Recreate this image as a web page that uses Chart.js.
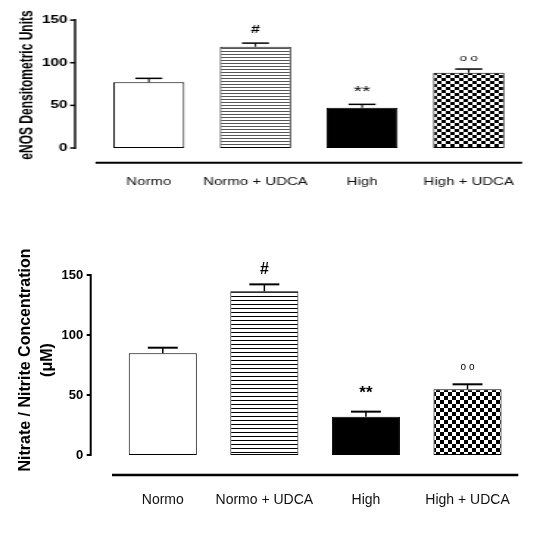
<!DOCTYPE html>
<html><head><meta charset="utf-8">
<script src="https://cdn.jsdelivr.net/npm/chart.js@4.4.0/dist/chart.umd.min.js"></script>
<style>
html,body{margin:0;padding:0;background:#fff;width:540px;height:545px;overflow:hidden;}
#top{position:absolute;left:0;top:0;width:367px;height:200px;transform:scaleX(1.4714);transform-origin:0 0;}
#bottom{position:absolute;left:0;top:240px;width:540px;height:305px;}
</style></head><body>
<canvas id="top" width="367" height="200"></canvas>
<canvas id="bottom" width="540" height="305"></canvas>
<script>
const categories = ['Normo', 'Normo + UDCA', 'High', 'High + UDCA'];
const enosMeans = [77, 118.7, 47.2, 88.2];
const enosErrors = [4.7, 4.3, 4.0, 4.4];
const noxMeans = [84.7, 136.4, 31.9, 54.7];
const noxErrors = [4.7, 5.8, 4.2, 4.2];
const significance = ['', '#', '**', 'o o'];
const yTickValues = [0, 50, 100, 150];
const enosTitle = 'eNOS Densitometric Units';
const noxTitle = ['Nitrate / Nitrite Concentration', '(\u03BCM)'];

const FONT = "'Liberation Sans', Arial, sans-serif";
Chart.defaults.color = '#000';
Chart.defaults.font.family = FONT;

function stripePattern(ctx, period, color) {
  const c = document.createElement('canvas'); c.width = 8; c.height = period;
  const g = c.getContext('2d');
  g.fillStyle = '#fff'; g.fillRect(0, 0, 8, period);
  g.fillStyle = color; g.fillRect(0, 0, 8, 1);
  return ctx.createPattern(c, 'repeat');
}
function checkerPattern(ctx, cw, ch) {
  const c = document.createElement('canvas'); c.width = 2 * cw; c.height = 2 * ch;
  const g = c.getContext('2d');
  g.fillStyle = '#fff'; g.fillRect(0, 0, 2 * cw, 2 * ch);
  g.fillStyle = '#000'; g.fillRect(0, 0, cw, ch); g.fillRect(cw, ch, cw, ch);
  return ctx.createPattern(c, 'repeat');
}

const decoPlugin = {
  id: 'deco',
  afterDatasetsDraw(chart, args, o) {
    const ctx = chart.ctx, ys = chart.scales.y, ca = chart.chartArea;
    const means = chart.data.datasets[0].data, errs = o.errors;
    ctx.save();
    ctx.strokeStyle = '#000'; ctx.fillStyle = '#000';
    chart.getDatasetMeta(0).data.forEach((bar, i) => {
      const tp = ys.getPixelForValue(means[i] + errs[i]);
      const half = bar.width * o.capRatio / 2;
      ctx.lineWidth = o.errWidthV;
      ctx.beginPath(); ctx.moveTo(bar.x, bar.y); ctx.lineTo(bar.x, tp); ctx.stroke();
      ctx.lineWidth = o.capWidth;
      ctx.beginPath(); ctx.moveTo(bar.x - half, tp); ctx.lineTo(bar.x + half, tp); ctx.stroke();
      const m = o.marks[i];
      if (m) {
        ctx.font = o.markFonts[i]; ctx.textAlign = 'center'; ctx.textBaseline = 'middle';
        ctx.fillText(m, bar.x, tp - o.markOffsets[i]);
      }
    });
    const sx = ca.left - o.gap;
    ctx.lineWidth = o.spineWidth;
    ctx.beginPath();
    ctx.moveTo(sx, ys.getPixelForValue(yTickValues[0]) + 1);
    ctx.lineTo(sx, ys.getPixelForValue(yTickValues[yTickValues.length - 1]) - 1);
    ctx.stroke();
    ctx.lineWidth = o.tickWidth;
    yTickValues.forEach(v => {
      const py = ys.getPixelForValue(v);
      ctx.beginPath(); ctx.moveTo(sx - o.tickLen, py); ctx.lineTo(sx, py); ctx.stroke();
    });
    ctx.lineWidth = o.baseWidth;
    ctx.beginPath(); ctx.moveTo(ca.left, ca.bottom); ctx.lineTo(ca.right, ca.bottom); ctx.stroke();
    ctx.restore();
  }
};

function makeChart(id, p) {
  const canvas = document.getElementById(id);
  const ctx = canvas.getContext('2d');
  const fills = ['#fff', p.stripe(ctx), '#000', p.checker(ctx)];
  return new Chart(ctx, {
    type: 'bar',
    data: {
      labels: categories,
      datasets: [{
        data: p.means,
        backgroundColor: fills,
        borderColor: '#000',
        borderWidth: p.borderWidth,
        borderSkipped: false,
        categoryPercentage: 1,
        barPercentage: p.barPct
      }]
    },
    plugins: [decoPlugin],
    options: {
      responsive: false,
      animation: false,
      devicePixelRatio: 1,
      layout: { padding: { top: p.padTop, right: p.padRight, left: 0, bottom: 0 } },
      plugins: {
        legend: { display: false },
        tooltip: { enabled: false },
        deco: {
          errors: p.errors, capRatio: p.capRatio, errWidthV: p.errWidthV, capWidth: p.capWidth,
          marks: significance, markFonts: p.markFonts, markOffsets: p.markOffsets,
          gap: p.gap, spineWidth: p.spineWidth, tickWidth: p.tickWidth, tickLen: p.tickLen, baseWidth: p.baseWidth
        }
      },
      scales: {
        x: {
          offset: true,
          grid: { display: false, drawTicks: false },
          border: { display: false },
          ticks: { padding: p.xPad, font: { size: p.xFont }, color: '#111', maxRotation: 0, autoSkip: false },
          afterFit: s => { s.height = p.xHeight; s.paddingLeft = 0; s.paddingRight = 0; }
        },
        y: {
          min: p.yMin, max: p.yMax,
          grid: { display: false, drawTicks: false },
          border: { display: false },
          afterBuildTicks: s => { s.ticks = yTickValues.map(v => ({ value: v })); },
          ticks: { padding: p.yPad, font: { size: p.yFont, weight: 'bold' } },
          title: {
            display: true, text: p.title, padding: { top: p.titlePad, bottom: 0 },
            font: { size: p.titleFont, weight: 'bold', lineHeight: p.titleLH }
          },
          afterFit: s => { s.width = p.yWidth; s.paddingTop = 0; s.paddingBottom = 0; }
        }
      }
    }
  });
}

makeChart('top', {
  means: enosMeans, errors: enosErrors, title: enosTitle,
  stripe: c => stripePattern(c, 3, '#555'), checker: c => checkerPattern(c, 3, 3),
  borderWidth: 1, barPct: 0.667,
  padTop: 7.3, padRight: 12.2, yMin: -17.2, yMax: 165,
  yWidth: 64.9, yPad: 19, yFont: 10.5, titleFont: 12, titleLH: 1.2, titlePad: 11,
  xHeight: 37.3, xPad: 12.9, xFont: 10.2,
  capRatio: 0.38, errWidthV: 1, capWidth: 1.5,
  markFonts: ['', 'bold 11px ' + FONT, '15px ' + FONT, '9px ' + FONT],
  markOffsets: [0, 13, 12.6, 11],
  gap: 13.9, spineWidth: 1.4, tickWidth: 1.5, tickLen: 3.4, baseWidth: 2
});

makeChart('bottom', {
  means: noxMeans, errors: noxErrors, title: noxTitle,
  stripe: c => stripePattern(c, 4, '#000'), checker: c => checkerPattern(c, 4, 4),
  borderWidth: 1, barPct: 0.67,
  padTop: 5, padRight: 21.7, yMin: -16.7, yMax: 175,
  yWidth: 112, yPad: 28.7, yFont: 13, titleFont: 16, titleLH: 1.375, titlePad: 14.5,
  xHeight: 70, xPad: 16.6, xFont: 14,
  capRatio: 0.44, errWidthV: 1.5, capWidth: 2,
  markFonts: ['', 'bold 16px ' + FONT, 'bold 17px ' + FONT, '10px ' + FONT],
  markOffsets: [0, 15, 18.7, 16.6],
  gap: 21.3, spineWidth: 2, tickWidth: 2, tickLen: 4, baseWidth: 2.5
});
</script>
</body></html>
